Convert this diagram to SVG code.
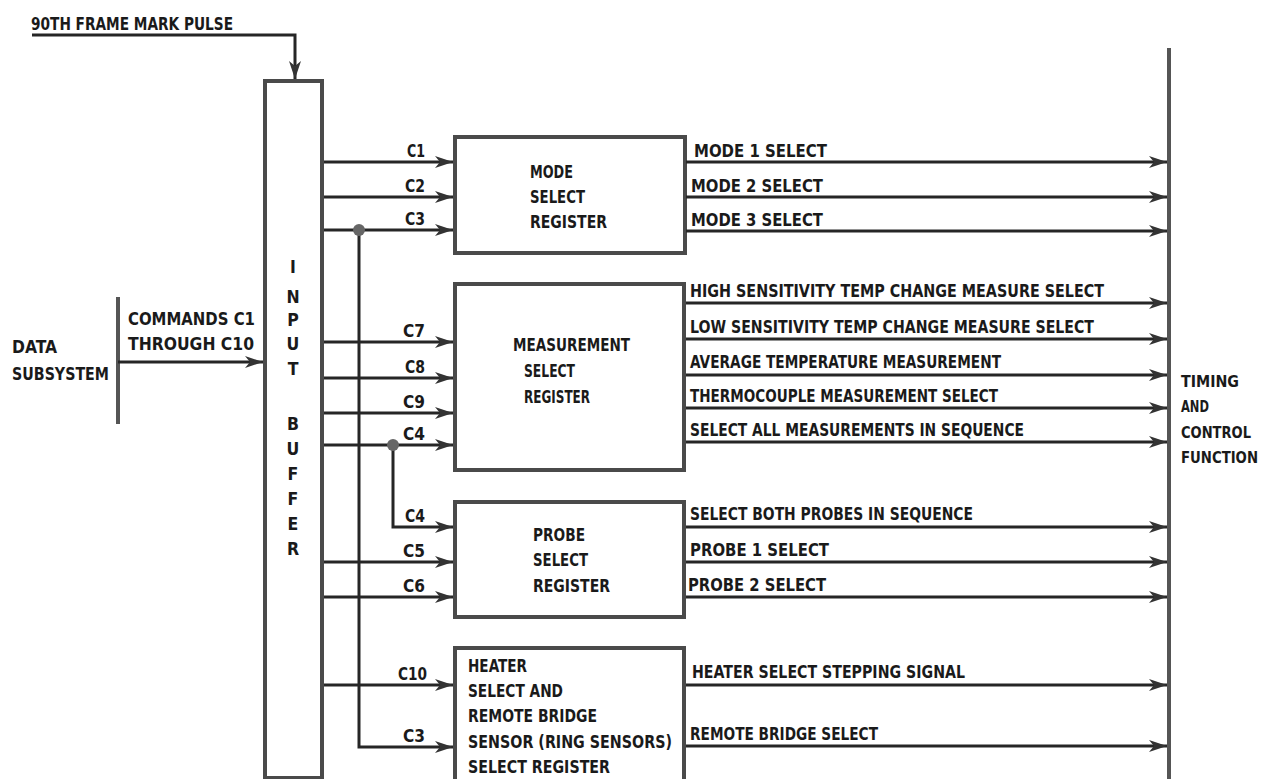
<svg xmlns="http://www.w3.org/2000/svg" width="1264" height="779" viewBox="0 0 1264 779">
<style>
text{font-family:"DejaVu Sans Condensed","DejaVu Sans","Liberation Sans",sans-serif;font-weight:bold;font-size:17.5px;fill:#1a1a1a}
.sm{font-size:15px}
.box{fill:#fff;stroke:#4a4a4a;stroke-width:4}
.bar{fill:none;stroke:#555;stroke-width:4}
.ln{fill:none;stroke:#262626;stroke-width:3}
.dot{fill:#666}
</style>
<defs>
<marker id="ah" markerUnits="userSpaceOnUse" markerWidth="20" markerHeight="14" refX="18" refY="7" orient="auto">
<path d="M0,1 L18,7 L0,13 L5,7 Z" fill="#333"/>
</marker>
</defs>
<rect width="1264" height="779" fill="#fff"/>

<g id="frame-pulse">
<text x="31" y="30" textLength="202" lengthAdjust="spacingAndGlyphs">90TH FRAME MARK PULSE</text>
</g>

<g id="data-subsystem">
<line class="bar" x1="118" y1="297" x2="118" y2="424"/>
<text x="12" y="353" textLength="45" lengthAdjust="spacingAndGlyphs">DATA</text>
<text x="12" y="380" textLength="97" lengthAdjust="spacingAndGlyphs">SUBSYSTEM</text>
</g>

<g id="input-buffer">
<rect class="box" x="265" y="81" width="57" height="697"/>
<g text-anchor="middle">
<text x="293" y="273">I</text>
<text x="293" y="303">N</text>
<text x="293" y="326">P</text>
<text x="293" y="350">U</text>
<text x="293" y="375">T</text>
<text x="293" y="430">B</text>
<text x="293" y="455">U</text>
<text x="293" y="480">F</text>
<text x="293" y="505">F</text>
<text x="293" y="530">E</text>
<text x="293" y="555">R</text>
</g>
</g>

<g id="mode-select-register">
<rect class="box" x="455" y="137" width="230" height="116"/>
<text x="530" y="178" textLength="43" lengthAdjust="spacingAndGlyphs">MODE</text>
<text x="530" y="203" textLength="55" lengthAdjust="spacingAndGlyphs">SELECT</text>
<text x="530" y="228" textLength="77" lengthAdjust="spacingAndGlyphs">REGISTER</text>
</g>

<g id="measurement-select-register">
<rect class="box" x="455" y="284" width="229" height="186"/>
<text x="513" y="351" textLength="117" lengthAdjust="spacingAndGlyphs">MEASUREMENT</text>
<text x="524" y="377" textLength="51" lengthAdjust="spacingAndGlyphs">SELECT</text>
<text x="524" y="403" textLength="66" lengthAdjust="spacingAndGlyphs">REGISTER</text>
</g>

<g id="probe-select-register">
<rect class="box" x="455" y="502" width="229" height="115"/>
<text x="533" y="541" textLength="52" lengthAdjust="spacingAndGlyphs">PROBE</text>
<text x="533" y="566" textLength="55" lengthAdjust="spacingAndGlyphs">SELECT</text>
<text x="533" y="592" textLength="77" lengthAdjust="spacingAndGlyphs">REGISTER</text>
</g>

<g id="heater-select-register">
<rect class="box" x="455" y="648" width="229" height="140"/>
<text x="468" y="672" textLength="59" lengthAdjust="spacingAndGlyphs">HEATER</text>
<text x="468" y="697" textLength="95" lengthAdjust="spacingAndGlyphs">SELECT AND</text>
<text x="468" y="722" textLength="129" lengthAdjust="spacingAndGlyphs">REMOTE BRIDGE</text>
<text x="468" y="748" textLength="204" lengthAdjust="spacingAndGlyphs">SENSOR (RING SENSORS)</text>
<text x="468" y="773" textLength="142" lengthAdjust="spacingAndGlyphs">SELECT REGISTER</text>
</g>

<g id="timing-control-function">
<line class="bar" x1="1169" y1="48" x2="1169" y2="779"/>
<text class="sm" x="1181" y="387" textLength="58" lengthAdjust="spacingAndGlyphs">TIMING</text>
<text class="sm" x="1181" y="412" textLength="28" lengthAdjust="spacingAndGlyphs">AND</text>
<text class="sm" x="1181" y="438" textLength="70" lengthAdjust="spacingAndGlyphs">CONTROL</text>
<text class="sm" x="1181" y="463" textLength="77" lengthAdjust="spacingAndGlyphs">FUNCTION</text>
</g>

<g id="connectors">
<polyline class="ln" points="32,35 295,35 295,79" marker-end="url(#ah)"/>
<line class="ln" x1="118" y1="362" x2="263" y2="362" marker-end="url(#ah)"/>
<text x="128" y="325" textLength="127" lengthAdjust="spacingAndGlyphs">COMMANDS C1</text>
<text x="128" y="350" textLength="126" lengthAdjust="spacingAndGlyphs">THROUGH C10</text>

<line class="ln" x1="324" y1="162" x2="453" y2="162" marker-end="url(#ah)"/>
<line class="ln" x1="324" y1="197" x2="453" y2="197" marker-end="url(#ah)"/>
<line class="ln" x1="324" y1="230" x2="453" y2="230" marker-end="url(#ah)"/>
<text x="407" y="157" textLength="18" lengthAdjust="spacingAndGlyphs">C1</text>
<text x="405" y="192" textLength="20" lengthAdjust="spacingAndGlyphs">C2</text>
<text x="405" y="225" textLength="20" lengthAdjust="spacingAndGlyphs">C3</text>

<line class="ln" x1="324" y1="342" x2="453" y2="342" marker-end="url(#ah)"/>
<line class="ln" x1="324" y1="378" x2="453" y2="378" marker-end="url(#ah)"/>
<line class="ln" x1="324" y1="413" x2="453" y2="413" marker-end="url(#ah)"/>
<line class="ln" x1="324" y1="445" x2="453" y2="445" marker-end="url(#ah)"/>
<text x="403" y="337" textLength="22" lengthAdjust="spacingAndGlyphs">C7</text>
<text x="405" y="373" textLength="20" lengthAdjust="spacingAndGlyphs">C8</text>
<text x="403" y="408" textLength="22" lengthAdjust="spacingAndGlyphs">C9</text>
<text x="403" y="440" textLength="22" lengthAdjust="spacingAndGlyphs">C4</text>

<polyline class="ln" points="393,445 393,527 453,527" marker-end="url(#ah)"/>
<line class="ln" x1="324" y1="562" x2="453" y2="562" marker-end="url(#ah)"/>
<line class="ln" x1="324" y1="597" x2="453" y2="597" marker-end="url(#ah)"/>
<text x="405" y="522" textLength="20" lengthAdjust="spacingAndGlyphs">C4</text>
<text x="403" y="557" textLength="22" lengthAdjust="spacingAndGlyphs">C5</text>
<text x="403" y="592" textLength="22" lengthAdjust="spacingAndGlyphs">C6</text>

<line class="ln" x1="324" y1="685" x2="453" y2="685" marker-end="url(#ah)"/>
<polyline class="ln" points="359,230 359,747 453,747" marker-end="url(#ah)"/>
<text x="398" y="680" textLength="29" lengthAdjust="spacingAndGlyphs">C10</text>
<text x="403" y="742" textLength="22" lengthAdjust="spacingAndGlyphs">C3</text>

<circle class="dot" cx="359" cy="230" r="6"/>
<circle class="dot" cx="393" cy="445" r="6"/>

<line class="ln" x1="686" y1="162" x2="1167" y2="162" marker-end="url(#ah)"/>
<line class="ln" x1="686" y1="197" x2="1167" y2="197" marker-end="url(#ah)"/>
<line class="ln" x1="686" y1="231" x2="1167" y2="231" marker-end="url(#ah)"/>
<text x="694" y="157" textLength="133" lengthAdjust="spacingAndGlyphs">MODE 1 SELECT</text>
<text x="691" y="192" textLength="132" lengthAdjust="spacingAndGlyphs">MODE 2 SELECT</text>
<text x="691" y="226" textLength="132" lengthAdjust="spacingAndGlyphs">MODE 3 SELECT</text>

<line class="ln" x1="686" y1="303" x2="1167" y2="303" marker-end="url(#ah)"/>
<line class="ln" x1="686" y1="339" x2="1167" y2="339" marker-end="url(#ah)"/>
<line class="ln" x1="686" y1="375" x2="1167" y2="375" marker-end="url(#ah)"/>
<line class="ln" x1="686" y1="408" x2="1167" y2="408" marker-end="url(#ah)"/>
<line class="ln" x1="686" y1="442" x2="1167" y2="442" marker-end="url(#ah)"/>
<text x="690" y="297" textLength="414" lengthAdjust="spacingAndGlyphs">HIGH SENSITIVITY TEMP CHANGE MEASURE SELECT</text>
<text x="690" y="333" textLength="404" lengthAdjust="spacingAndGlyphs">LOW SENSITIVITY TEMP CHANGE MEASURE SELECT</text>
<text x="690" y="368" textLength="311" lengthAdjust="spacingAndGlyphs">AVERAGE TEMPERATURE MEASUREMENT</text>
<text x="690" y="402" textLength="308" lengthAdjust="spacingAndGlyphs">THERMOCOUPLE MEASUREMENT SELECT</text>
<text x="690" y="436" textLength="334" lengthAdjust="spacingAndGlyphs">SELECT ALL MEASUREMENTS IN SEQUENCE</text>

<line class="ln" x1="686" y1="527" x2="1167" y2="527" marker-end="url(#ah)"/>
<line class="ln" x1="686" y1="562" x2="1167" y2="562" marker-end="url(#ah)"/>
<line class="ln" x1="686" y1="597" x2="1167" y2="597" marker-end="url(#ah)"/>
<text x="690" y="520" textLength="283" lengthAdjust="spacingAndGlyphs">SELECT BOTH PROBES IN SEQUENCE</text>
<text x="690" y="556" textLength="139" lengthAdjust="spacingAndGlyphs">PROBE 1 SELECT</text>
<text x="688" y="591" textLength="138" lengthAdjust="spacingAndGlyphs">PROBE 2 SELECT</text>

<line class="ln" x1="686" y1="685" x2="1167" y2="685" marker-end="url(#ah)"/>
<line class="ln" x1="686" y1="746" x2="1167" y2="746" marker-end="url(#ah)"/>
<text x="692" y="678" textLength="273" lengthAdjust="spacingAndGlyphs">HEATER SELECT STEPPING SIGNAL</text>
<text x="690" y="740" textLength="188" lengthAdjust="spacingAndGlyphs">REMOTE BRIDGE SELECT</text>
</g>
</svg>
